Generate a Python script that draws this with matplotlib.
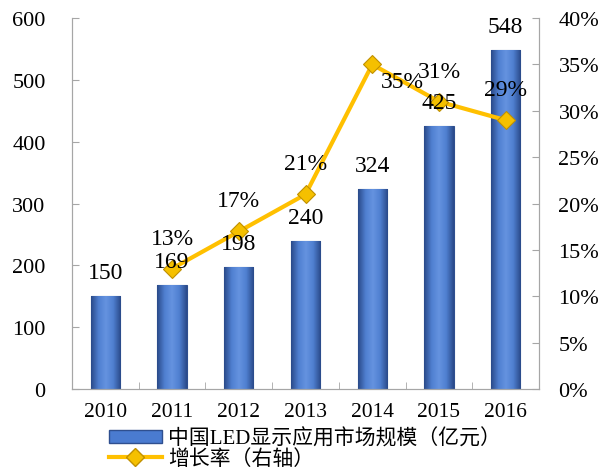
import matplotlib.pyplot as plt
import numpy as np
from matplotlib.colors import LinearSegmentedColormap
from matplotlib.lines import Line2D
from matplotlib.patches import Patch

# data
years = ['2010', '2011', '2012', '2013', '2014', '2015', '2016']
market = [150, 169, 198, 240, 324, 425, 548]
growth_years = ['2011', '2012', '2013', '2014', '2015', '2016']
growth = [13, 17, 21, 35, 31, 29]
bar_label = '中国LED显示应用市场规模（亿元）'
line_label = '增长率（右轴）'

plt.rcParams['font.family'] = ['Liberation Serif', 'Noto Sans CJK SC']

fig = plt.figure(figsize=(6.05, 4.77), dpi=100)
ax = fig.add_axes([0.119, 0.182, 0.772, 0.778])
ax2 = ax.twinx()

x = np.arange(len(years))
bars = ax.bar(x, market, width=0.44, color='#4472C4', edgecolor='#2F4F8F', linewidth=0.8, zorder=2)

# horizontal gradient on the bars
cmap = LinearSegmentedColormap.from_list('b', ['#2A4A8A', '#4F7FD0', '#6593E0', '#4F7FD0', '#2A4A8A'])
grad = np.linspace(0, 1, 64).reshape(1, -1)
for b in bars:
    im = ax.imshow(grad, cmap=cmap, aspect='auto', zorder=2.5,
                   extent=[b.get_x(), b.get_x() + b.get_width(), 0, b.get_height()])
    im.set_clip_path(b)

ax.set_xlim(-0.5, len(years) - 0.5)
ax.set_ylim(0, 600)
ax.set_yticks(range(0, 601, 100))
ax.set_xticks(x)
ax.set_xticklabels(years)

gx = [years.index(y) for y in growth_years]
ax2.plot(gx, growth, color='#FFC000', lw=3, marker='D', ms=9,
         mfc='#F5C000', mec='#C09000', mew=0.8, zorder=3)
ax2.set_ylim(0, 40)
ax2.set_yticks(range(0, 41, 5))
ax2.set_yticklabels([f'{v}%' for v in range(0, 41, 5)])

for a in (ax, ax2):
    a.spines['top'].set_visible(False)
    for s in ('left', 'right', 'bottom'):
        a.spines[s].set_color('#A6A6A6')
    a.tick_params(labelsize=16, color='#A6A6A6', direction='in', length=5)
ax.tick_params(axis='x', length=0, pad=9, labelsize=15.5)
ax.tick_params(axis='y', pad=19)
ax2.tick_params(axis='y', pad=14)
# category separator ticks on the x axis
ax.set_xticks(np.arange(-0.5, len(years), 1), minor=True)
ax.tick_params(axis='x', which='minor', direction='in', length=5, color='#A6A6A6')

for xi, v in zip(x, market):
    ax2.annotate(str(v), (xi, v), xycoords=ax.transData, xytext=(0, 17),
                 textcoords='offset points', ha='center', va='center', fontsize=17, zorder=5)

offsets = {35: (22, -12)}
for xi, v in zip(gx, growth):
    ax2.annotate(f'{v}%', (xi, v), xytext=offsets.get(v, (0, 22)),
                 textcoords='offset points', ha='center', va='center', fontsize=17, zorder=5)

handles = [Patch(facecolor='#4A7BD0', edgecolor='#2F4F8F'),
           Line2D([], [], color='#FFC000', lw=3, marker='D', ms=9, mfc='#F5C000', mec='#C09000')]
fig.legend(handles, [bar_label, line_label], loc='upper left', bbox_to_anchor=(0.18, 0.099),
           frameon=False, fontsize=15, handlelength=2.55, handleheight=0.55, handletextpad=0.3,
           labelspacing=0.0, borderpad=0, borderaxespad=0)

fig.savefig('out.png', dpi=100)
